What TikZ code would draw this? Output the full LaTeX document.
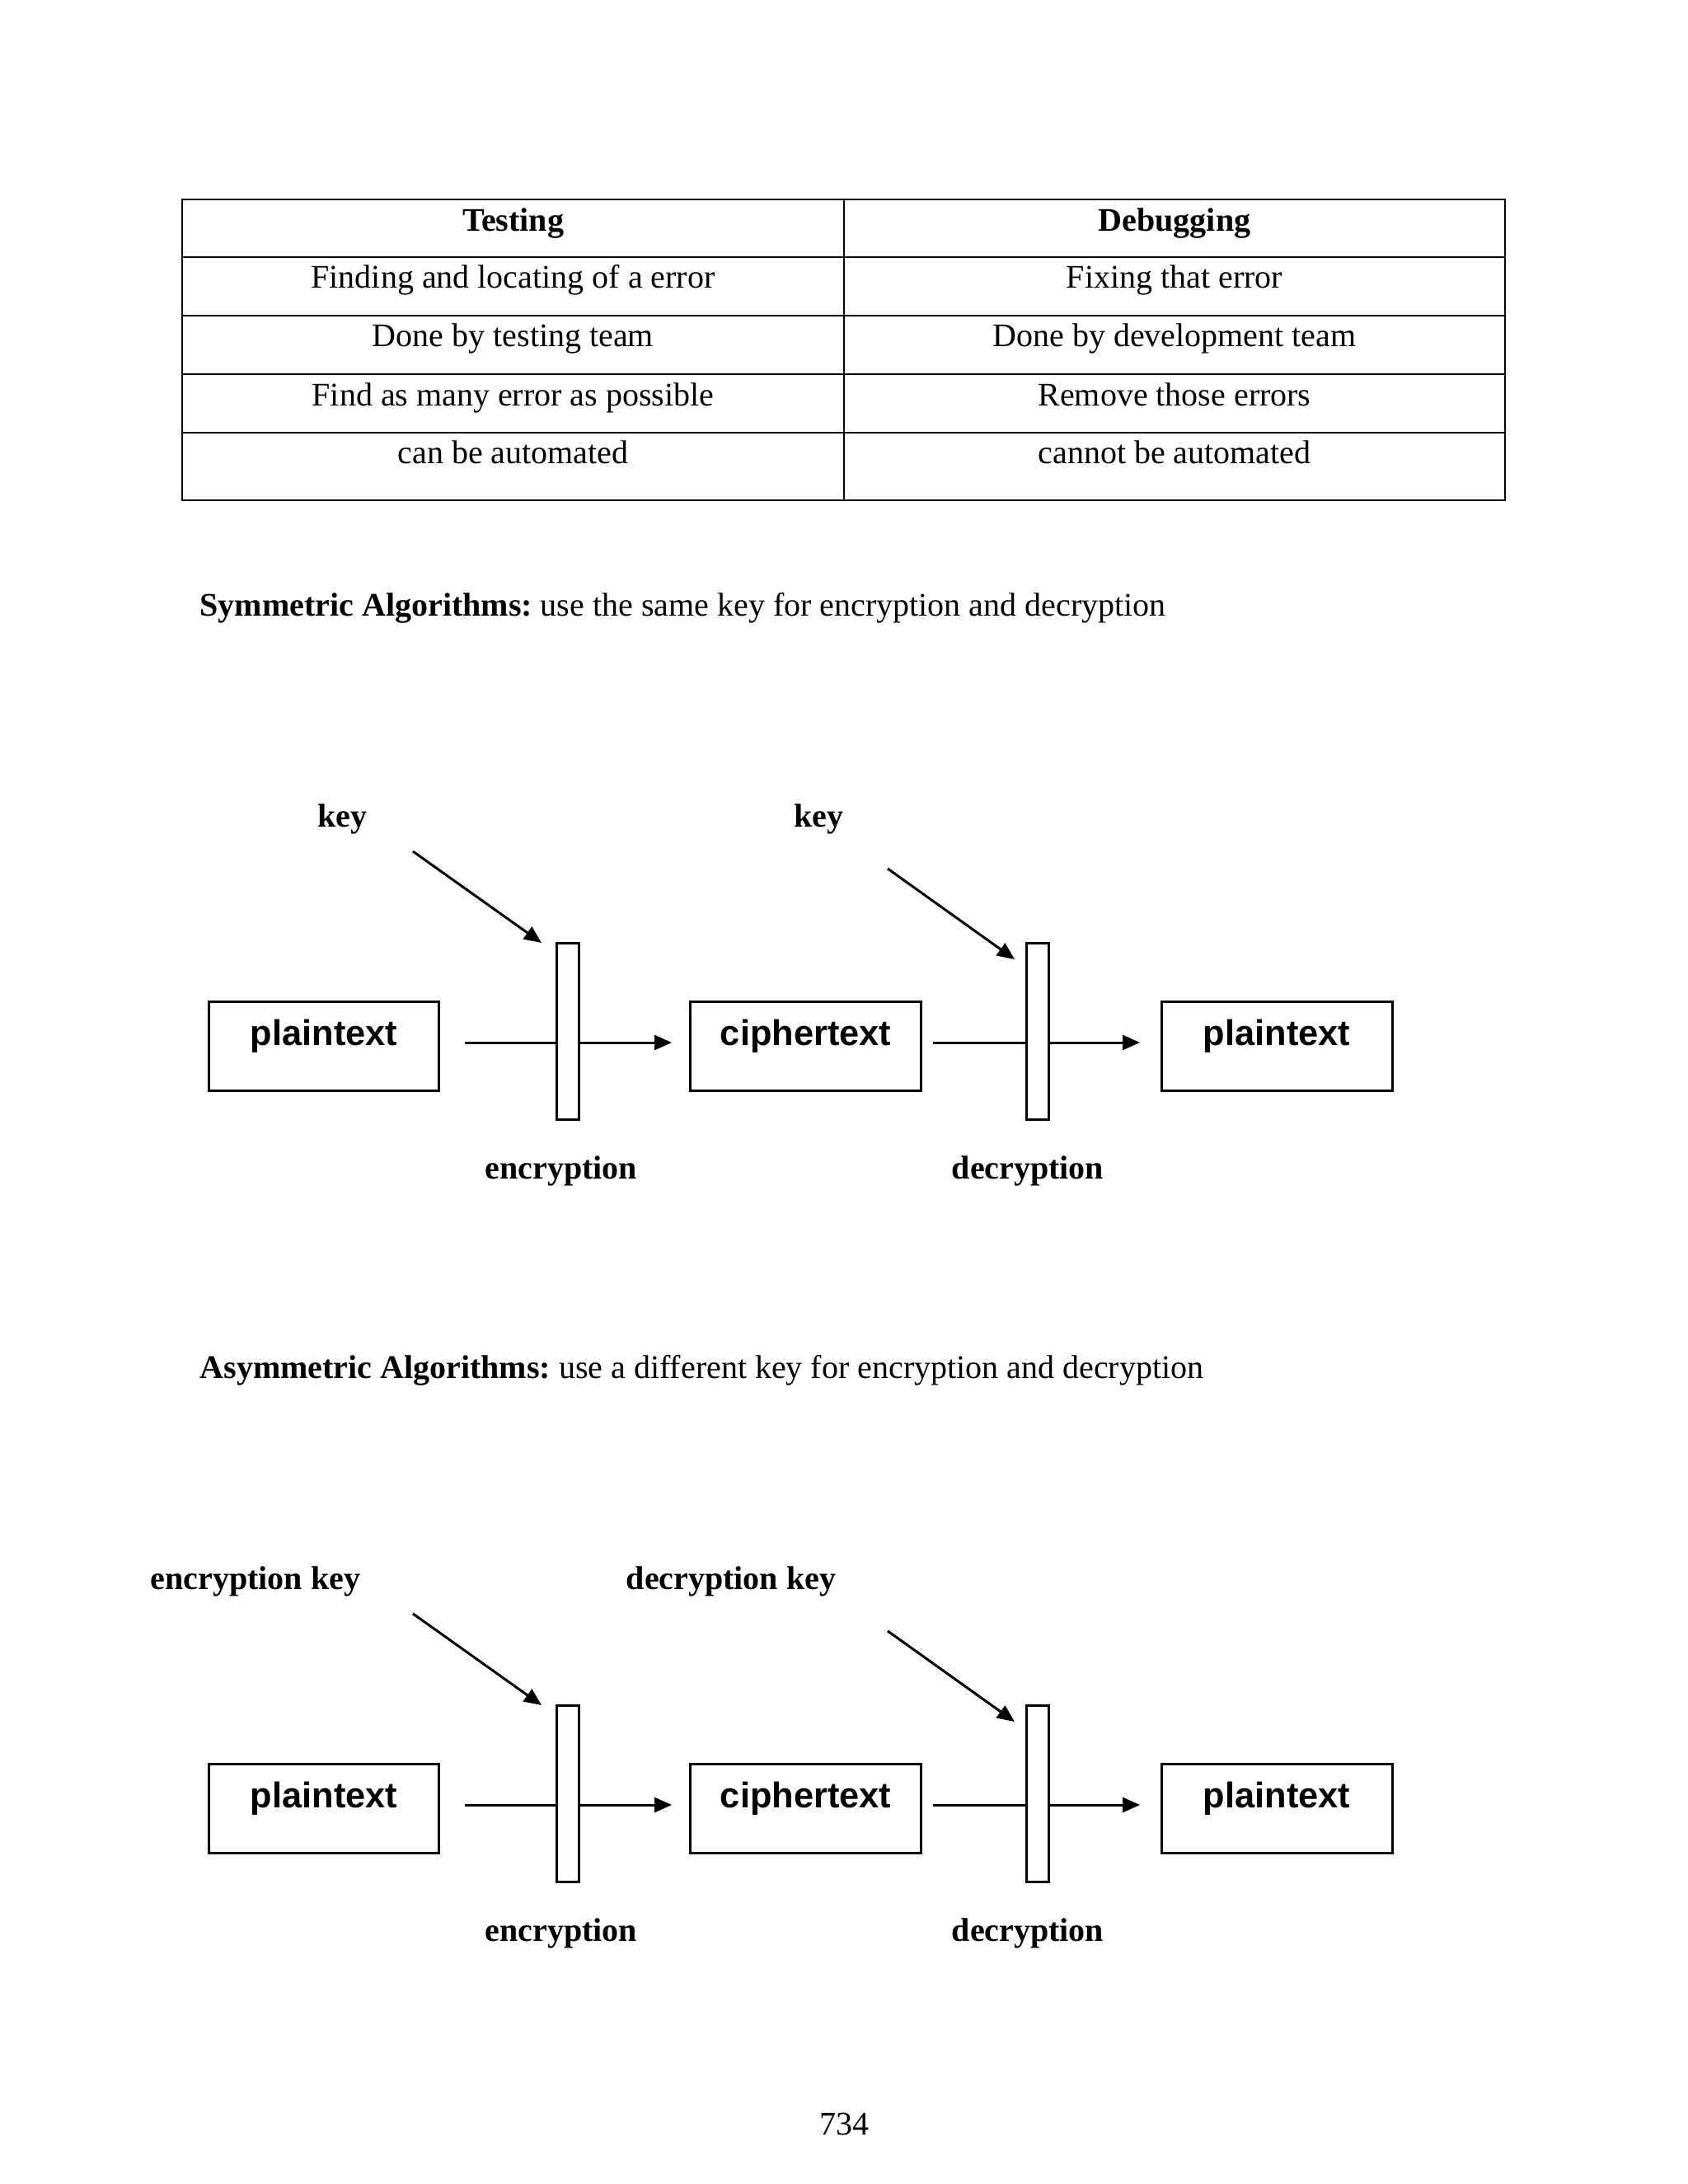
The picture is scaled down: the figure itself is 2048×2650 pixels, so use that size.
\documentclass[tikz,border=0pt]{standalone}
\usepackage{fontspec}
\setmainfont{Liberation Serif}
\newfontfamily\arialf{Liberation Sans}
\usetikzlibrary{arrows.meta}
\frenchspacing
\begin{document}
\begin{tikzpicture}[x=0.010542cm,y=-0.010542cm,
  tline/.style={line width=0.6pt},
  cell/.style={anchor=base,inner sep=0pt,font=\fontsize{12}{14}\selectfont},
  hcell/.style={anchor=base,inner sep=0pt,font=\fontsize{12}{14}\selectfont\bfseries},
  para/.style={anchor=base west,inner sep=0pt,font=\fontsize{12}{14}\selectfont},
  box/.style={draw,line width=0.9pt,minimum width=2.952cm,minimum height=1.139cm,inner sep=0pt},
  boxtxt/.style={anchor=base,inner sep=0pt,font=\arialf\bfseries\fontsize{13}{15}\selectfont},
  bar/.style={draw,fill=white,line width=0.9pt,minimum width=0.285cm,minimum height=2.256cm,inner sep=0pt},
  lbl/.style={anchor=base,inner sep=0pt,font=\fontsize{12}{14}\selectfont\bfseries},
  arr/.style={line width=0.9pt,-{Triangle[length=6.3pt,width=5.4pt]}},
  plain/.style={line width=0.9pt}
]
\useasboundingbox (0,0) rectangle (2048,2650);
\fill[white] (0,0) rectangle (2048,2650);

% ---------- table ----------
\draw[tline] (221,242) rectangle (1826,607);
\draw[tline] (1024,242) -- (1024,607);
\foreach \yy in {312,383,454,525} \draw[tline] (221,\yy) -- (1826,\yy);
\node[hcell] (t00) at (622.5,280) {Testing};
\node[hcell] (t01) at (1425,280) {Debugging};
\node[cell] (t10) at (622.5,349) {Finding and locating of a error};
\node[cell] (t11) at (1425,349) {Fixing that error};
\node[cell] (t20) at (622.5,420) {Done by testing team};
\node[cell] (t21) at (1425,420) {Done by development team};
\node[cell] (t30) at (622.5,492) {Find as many error as possible};
\node[cell] (t31) at (1425,492) {Remove those errors};
\node[cell] (t40) at (622.5,562) {can be automated};
\node[cell] (t41) at (1425,562) {cannot be automated};

% ---------- symmetric ----------
\node[para] (h1) at (242,747) {\textbf{Symmetric Algorithms:} use the same key for encryption and decryption};

\node[lbl] (k1) at (415,1003) {key};
\node[lbl] (k2) at (993,1003) {key};
\node[box] (p1) at (393,1269) {};
\node[boxtxt] (p1t) at (393,1268) {plaintext};
\node[box] (c1) at (977.5,1269) {};
\node[boxtxt] (c1t) at (977.5,1268) {ciphertext};
\node[box] (q1) at (1549,1269) {};
\node[boxtxt] (q1t) at (1549,1268) {plaintext};
\coordinate (e1s) at (564,1265);
\coordinate (e1e) at (815,1265);
\coordinate (d1s) at (1132,1265);
\coordinate (d1e) at (1383,1265);
\draw[arr] (e1s) -- (e1e);
\draw[arr] (d1s) -- (d1e);
\node[bar] (enc1) at (689,1251) {};
\node[bar] (dec1) at (1259,1251) {};
\coordinate (ka1) at (501,1033);
\coordinate (kb1) at (1077,1054);
\coordinate (kae1) at (657,1144);
\coordinate (kbe1) at (1231,1164);
\draw[arr] (ka1) -- (kae1);
\draw[arr] (kb1) -- (kbe1);
\node[lbl] (el1) at (681,1430) {encryption};
\node[lbl] (dl1) at (1247,1430) {decryption};

% ---------- asymmetric ----------
\node[para] (h2) at (242,1672) {\textbf{Asymmetric Algorithms:} use a different key for encryption and decryption};

\node[lbl] (k3) at (310,1928) {encryption key};
\node[lbl] (k4) at (887,1928) {decryption key};
\node[box] (p2) at (393,2194) {};
\node[boxtxt] (p2t) at (393,2193) {plaintext};
\node[box] (c2) at (977.5,2194) {};
\node[boxtxt] (c2t) at (977.5,2193) {ciphertext};
\node[box] (q2) at (1549,2194) {};
\node[boxtxt] (q2t) at (1549,2193) {plaintext};
\coordinate (e2s) at (564,2190);
\coordinate (e2e) at (815,2190);
\coordinate (d2s) at (1132,2190);
\coordinate (d2e) at (1383,2190);
\draw[arr] (e2s) -- (e2e);
\draw[arr] (d2s) -- (d2e);
\node[bar] (enc2) at (689,2176) {};
\node[bar] (dec2) at (1259,2176) {};
\coordinate (ka2) at (501,1958);
\coordinate (kb2) at (1077,1979);
\coordinate (kae2) at (657,2069);
\coordinate (kbe2) at (1231,2089);
\draw[arr] (ka2) -- (kae2);
\draw[arr] (kb2) -- (kbe2);
\node[lbl] (el2) at (681,2355) {encryption};
\node[lbl] (dl2) at (1247,2355) {decryption};

% ---------- page number ----------
\node[cell] (pg) at (1024,2590) {734};
\end{tikzpicture}
\end{document}
